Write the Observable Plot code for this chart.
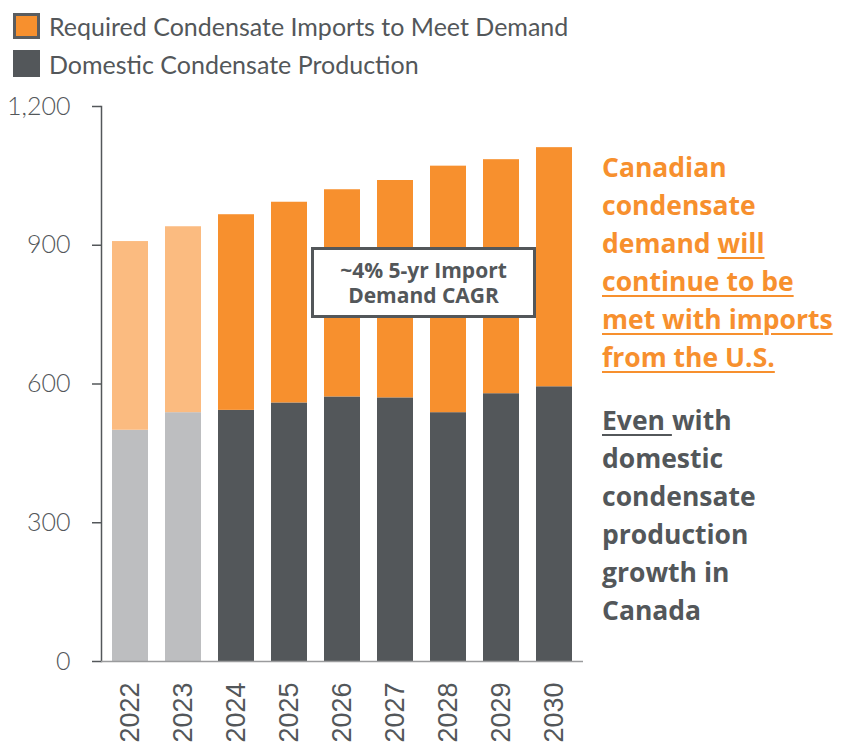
<!DOCTYPE html>
<html>
<head>
<meta charset="utf-8">
<script src="https://cdn.jsdelivr.net/npm/d3@7"></script>
<script src="https://cdn.jsdelivr.net/npm/@observablehq/plot@0.6"></script>
<style>
  html, body { margin: 0; padding: 0; background: #fff; }
  #wrap { position: relative; width: 846px; height: 752px; overflow: hidden; font-family: Lato, "Open Sans", sans-serif; color: #53575A; }
  #chart { position: absolute; left: 0; top: 0; }
  .leg { position: absolute; left: 13px; height: 27px; display: flex; align-items: center; font-size: 25px; font-weight: 400; color: #53575A; white-space: nowrap; }
  .sw { width: 27px; height: 26px; box-sizing: border-box; margin-right: 9px; flex: none; }
  #note { position: absolute; left: 311px; top: 247px; width: 225px; height: 71px; box-sizing: border-box; border: 3px solid #53575A; background: #fff; display: flex; flex-direction: column; align-items: center; justify-content: center; text-align: center; font-family: "Open Sans", sans-serif; font-weight: 700; font-size: 21px; line-height: 25px; color: #53575A; }
  #note div { height: 25px; }
  #side { position: absolute; left: 602px; top: 148px; width: 244px; font-family: "Open Sans", sans-serif; font-weight: 700; font-size: 26.5px; line-height: 38px; }
  #side p { margin: 0; }
  #side .o { color: #F7902E; }
  #side .g { color: #53575A; margin-top: 25px; }
  #side u { text-decoration-thickness: 2px; text-underline-offset: 4px; }
</style>
</head>
<body>
<div id="wrap">
  <div id="chart"></div>
  <div class="leg" id="leg1" style="top:12px;"><div class="sw" style="background:#F7902E;border:3px solid #5A5D60;"></div><span>Required Condensate Imports to Meet Demand</span></div>
  <div class="leg" id="leg2" style="top:50px;"><div class="sw" style="background:#53575A;height:27px;"></div><span>Domestic Condensate Production</span></div>
  <div id="note"><div>~4% 5-yr Import</div><div>Demand CAGR</div></div>
  <div id="side">
    <p class="o">Canadian<br>condensate<br>demand <u>will<br>continue to be<br>met with imports<br>from the U.S.</u></p>
    <p class="g"><u>Even </u>with<br>domestic<br>condensate<br>production<br>growth in<br>Canada</p>
  </div>
</div>
<script>
const years = ["2022", "2023", "2024", "2025", "2026", "2027", "2028", "2029", "2030"];
const domestic = [500, 538, 543, 559, 572, 570, 538, 579, 594];
const imports = [408, 402, 423, 434, 448, 470, 533, 506, 517];
const historical = ["2022", "2023"];
const yTicks = [0, 300, 600, 900, 1200];

const rows = [];
years.forEach((y, i) => {
  const h = historical.includes(y);
  rows.push({year: y, value: domestic[i], cat: h ? "dom-hist" : "dom"});
  rows.push({year: y, value: imports[i], cat: h ? "imp-hist" : "imp"});
});

const chart = Plot.plot({
  width: 846,
  height: 752,
  marginTop: 106,
  marginBottom: 91,
  marginLeft: 101,
  marginRight: 263,
  style: {fontFamily: "Lato, sans-serif", color: "#53575A", background: "transparent"},
  x: {domain: years, paddingInner: 0.327, paddingOuter: 0.17, label: null},
  y: {domain: [0, 1200], label: null},
  color: {domain: ["dom-hist", "imp-hist", "dom", "imp"], range: ["#BDBEC0", "#FBBB80", "#53575A", "#F7902E"]},
  marks: [
    Plot.barY(rows, Plot.stackY({x: "year", y: "value", fill: "cat", order: null})),
    Plot.frame({anchor: "left", stroke: "#53575A", strokeWidth: 1.5}),
    Plot.ruleY([0], {stroke: "#9A9B9D", strokeWidth: 1.5}),
    Plot.axisY({ticks: yTicks, tickFormat: d3.format(","), tickSize: 9, tickPadding: 22, fontSize: 25, fontWeight: 300, stroke: "#53575A", strokeWidth: 1.5, label: null}),
    Plot.axisX({tickSize: 0, tickPadding: 21, tickRotate: -90, fontSize: 27, fontFamily: "Liberation Sans, Arial, sans-serif", label: null})
  ]
});
document.getElementById("chart").appendChild(chart);
</script>
</body>
</html>
